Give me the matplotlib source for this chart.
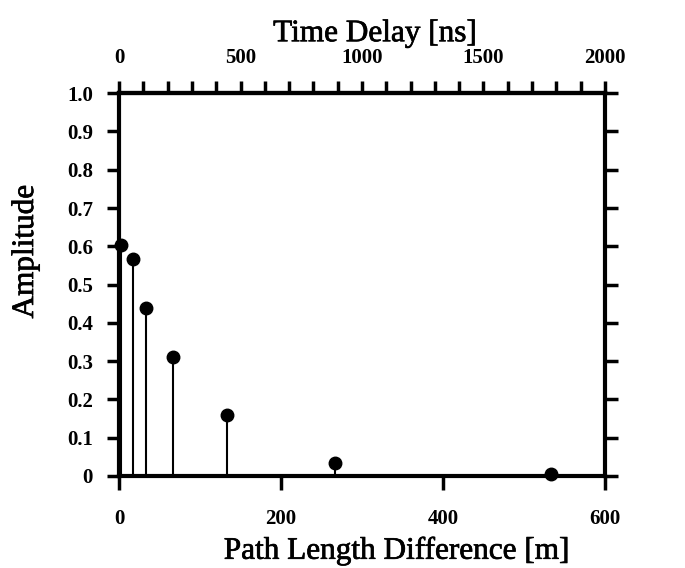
import matplotlib
matplotlib.use("Agg")
import matplotlib.pyplot as plt
import matplotlib.patheffects as pe
import numpy as np
from matplotlib.ticker import MultipleLocator

# path length difference [m] and amplitude of each delayed copy
path_m = [2, 16.7, 33.3, 66.7, 133.3, 266.7, 533.3]
amplitude = [0.603, 0.568, 0.44, 0.31, 0.159, 0.034, 0.005]

x_ticks = [0, 200, 400, 600]
y_ticks = [0, 0.1, 0.2, 0.3, 0.4, 0.5, 0.6, 0.7, 0.8, 0.9, 1.0]
y_labels = ["0", "0.1", "0.2", "0.3", "0.4", "0.5", "0.6", "0.7", "0.8", "0.9", "1.0"]
top_ticks = [0, 500, 1000, 1500, 2000]

plt.rcParams['font.family'] = ['Liberation Serif', 'DejaVu Serif']
heavy = [pe.withStroke(linewidth=0.5, foreground='black')]

fig = plt.figure(figsize=(6.85, 5.68), dpi=100)
ax = fig.add_axes([0.174, 0.162, 0.709, 0.674])

ax.vlines(path_m, 0, amplitude, color='black', lw=1.5)
ax.plot(path_m, amplitude, 'o', color='black', ms=9, clip_on=False, zorder=5)

ax.set_xlim(0, 600)
ax.set_ylim(0, 1.0)
ax.set_xticks(x_ticks)
ax.set_xticklabels([str(t) for t in x_ticks], fontweight='bold', fontsize=15)
ax.set_yticks(y_ticks)
ax.set_yticklabels(y_labels, fontweight='bold', fontsize=15)

for s in ax.spines.values():
    s.set_linewidth(3)

ax.tick_params(axis='x', direction='out', length=10, width=2.5, pad=14)
ax.tick_params(axis='y', direction='out', length=9, width=2.5, pad=10, right=True)

# metres to nanoseconds (light travels 0.3 m per ns)
sec = ax.secondary_xaxis('top', functions=(lambda m: m / 0.3, lambda ns: ns * 0.3))
sec.set_xticks(top_ticks)
sec.set_xticklabels([str(t) for t in top_ticks], fontweight='bold', fontsize=15)
sec.xaxis.set_minor_locator(MultipleLocator(100))
sec.tick_params(which='both', direction='out', length=9, width=2.5, pad=9)
sec.spines['top'].set_linewidth(3)
sec.set_xlabel("Time Delay [ns]", fontsize=22.5, labelpad=5, path_effects=heavy)
sec.xaxis.label.set_x(0.527)

ax.set_xlabel("Path Length Difference [m]", fontsize=22.5, labelpad=5, path_effects=heavy)
ax.xaxis.label.set_x(0.572)
ax.set_ylabel("Amplitude", fontsize=22.5, path_effects=heavy)
ax.yaxis.set_label_coords(-0.163, 0.586)

fig.savefig("out.png", dpi=100)
